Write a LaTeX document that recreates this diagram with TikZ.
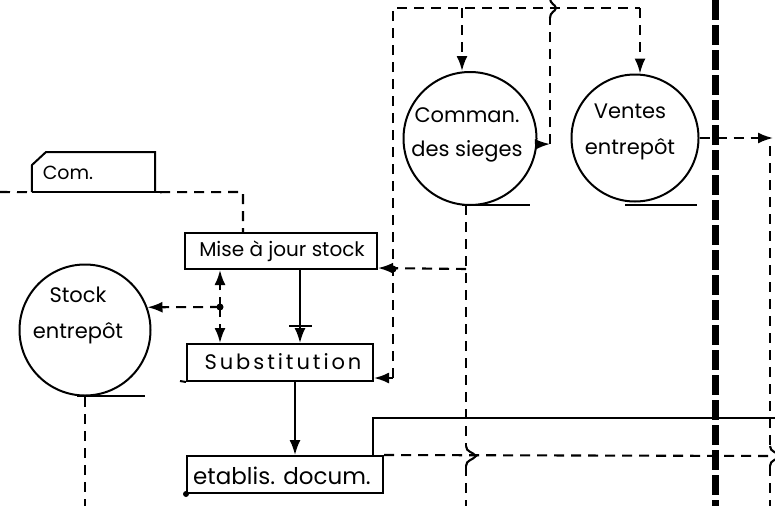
\documentclass[tikz,border=0pt]{standalone}
\usepackage{fontspec}
\setmainfont{Poppins}
\usetikzlibrary{arrows.meta,calc}
\begin{document}
\begin{tikzpicture}[x=1pt,y=-1pt,
  flow/.style={line width=2.1pt, dash pattern=on 10pt off 7pt},
  solidflow/.style={line width=2pt},
  arr/.style={-{Latex[length=15pt,width=11pt]}},
  proc/.style={circle, draw, line width=2pt, inner sep=0pt},
  box/.style={draw, line width=2pt, rectangle, inner sep=0pt},
  lbl/.style={inner sep=0pt, align=center},
  dot/.style={circle, fill, inner sep=0pt, minimum size=7pt},
  border/.style={line width=7pt, dash pattern=on 20pt off 5pt},
  bump/.style={line width=2.1pt},
]
\useasboundingbox (0,0) rectangle (775,506);
\fill[white] (0,0) rectangle (775,506);

% processes (circles)
\node[proc, minimum size=133pt] (comm) at (470,138.5) {};
\node[proc, minimum size=127pt] (ventes) at (635,138) {};
\node[proc, minimum size=131pt] (stock) at (85,330) {};
\node[lbl, font=\fontsize{21}{34}\selectfont] (commt) at (467,135) {Comman.\\des sieges};
\node[lbl, font=\fontsize{21}{36}\selectfont] (ventest) at (630,132) {Ventes\\entrepôt};
\node[lbl, font=\fontsize{21}{36}\selectfont] (stockt) at (78,315) {Stock\\entrepôt};

% underlines of the circles
\draw[solidflow] (462,205) -- (530,205);
\draw[solidflow] (625,205) -- (697,205);
\draw[solidflow] (77,396) -- (145,396);

% boxes
\node[box, minimum width=192pt, minimum height=36pt] (mise) at (281,251) {};
\node[lbl, font=\fontsize{20}{22}\selectfont] (miset) at (282,251) {Mise à jour stock};
\node[box, minimum width=186pt, minimum height=37pt] (subst) at (280,362.5) {};
\node[lbl, font=\fontsize{21}{22}\selectfont\addfontfeatures{LetterSpace=14}] (substt) at (283,362) {Substitution};
\draw[solidflow] (180,381) -- (subst.south west);
\node[box, minimum width=196pt, minimum height=37pt] (etab) at (285,474.5) {};
\node[lbl, font=\fontsize{23}{24}\selectfont] (etabt) at (282,476) {etablis. docum.};
\fill (etab.south west) circle (3pt);

% data store Com.
\node[inner sep=0pt, minimum width=123pt, minimum height=40pt] (com) at (93.5,172) {};
\draw[solidflow] (com.south west) -- (32,165) -- (46,152) -- (155,152) -- (155,192);
\draw[solidflow] (com.south west) -- ($(com.south east)+(5,0)$);
\node[lbl, font=\fontsize{19}{20}\selectfont] (comt) at (68,173) {Com.};

% thick frontier
\coordinate (bt) at (715,0);
\coordinate (bb) at (715,506);
\draw[border] (bt) -- (bb);

% top dashed network
\coordinate (tl) at (393,8);
\coordinate (t1) at (462,8);
\coordinate (t2) at (640,8);
\coordinate (sl) at (393,378);
\draw[flow] (sl) -- (tl) -- (t2);
\draw[flow,arr] (t1) -- (t1 |- comm.north);
\draw[flow,arr] (t2) -- (t2 |- ventes.north);
\draw[flow,arr] (sl) -- (sl -| subst.east);

% Comman. -> up and out
\coordinate (cx) at (550,144);
\coordinate (cxb) at (550,18);
\draw[flow,arr] (comm.-5) -- (cx);
\draw[flow] (cx) -- (cxb);
\draw[bump] (cxb) .. controls (550,12) and (555,12) .. (556,8) .. controls (555,4) and (550,4) .. (550,-2);

% Comman. bottom line down
\coordinate (cb) at (466,205);
\coordinate (cj) at (466,269);
\coordinate (cb1) at (466,446);
\coordinate (cb2) at (466,466);
\coordinate (cbe) at (466,506);
\coordinate (dm) at (393,269);
\draw[flow] (cb) -- (cb1);
\draw[bump] (cb1) .. controls (466,452) and (473,452) .. (476,456) .. controls (473,460) and (466,460) .. (cb2);
\draw[flow] (cb2) -- (cbe);
\draw[flow,arr] (cj) -- ($(mise.south east)+(0,-2)$);
\node[dot] (dmd) at (dm) {};

% Ventes -> right
\coordinate (vr) at (773,138);
\draw[flow,arr] (ventes.east) -- (vr);
\coordinate (r0) at (770,146);
\coordinate (r1) at (770,446);
\coordinate (r2) at (770,466);
\coordinate (re) at (770,506);
\draw[flow] (r0) -- (r1);
\draw[bump] (r1) .. controls (770,452) and (777,452) .. (780,456) .. controls (777,460) and (770,460) .. (r2);
\draw[flow] (r2) -- (re);

% Stock links
\coordinate (ds) at (220,307);
\node[dot] (dsd) at (ds) {};
\draw[flow,arr] (ds) -- (ds |- mise.south);
\draw[flow,arr] (ds) -- (ds |- subst.north);
\draw[flow,arr] (ds) -- (stock.20);
\coordinate (sb) at (85,397);
\coordinate (sbe) at (85,506);
\draw[flow] (sb) -- (sbe);

% Com. store -> Mise
\coordinate (cl) at (0,192);
\coordinate (cc) at (243,192);
\draw[flow] (cl) -- (com.south west);
\draw[flow] ($(com.south east)+(5,0)$) -- (cc) -- (cc |- mise.north);

% solid flows
\coordinate (m1) at (300,269);
\draw[solidflow,arr] (m1) -- (m1 |- subst.north);
\draw[solidflow] (289,326) -- (312,326);
\coordinate (s1) at (295,381);
\draw[solidflow,arr] (s1) -- (s1 |- etab.north);
\coordinate (e1) at (373,456);
\coordinate (e2) at (373,418);
\coordinate (e3) at (775,418);
\draw[solidflow] (e1) -- (e2) -- (e3);

% etablis -> right (dashed)
\coordinate (ee) at (775,456);
\draw[flow] (etab.north east) -- (ee);
\end{tikzpicture}
\end{document}
